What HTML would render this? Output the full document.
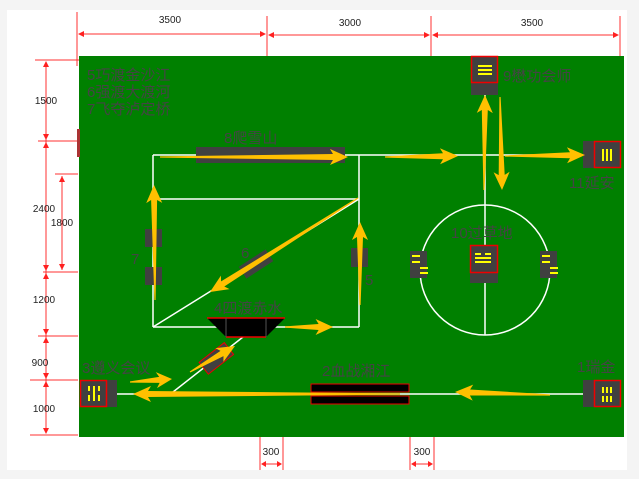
<!DOCTYPE html>
<html><head><meta charset="utf-8"><style>
html,body{margin:0;padding:0;background:#f4f4f4;}
svg{display:block}
text{font-family:"Liberation Sans","Noto Sans CJK SC",sans-serif;}
</style></head><body>
<svg id="s" width="639" height="479" viewBox="0 0 639 479" xmlns="http://www.w3.org/2000/svg">
<rect x="7" y="10" width="620" height="460" fill="#fff"/>
<g stroke="#ff3030" stroke-width="1" fill="none">
<line x1="77" y1="12" x2="77" y2="66"/><line x1="267" y1="16" x2="267" y2="58"/><line x1="431" y1="16" x2="431" y2="58"/><line x1="620" y1="16" x2="620" y2="58"/>
<line x1="79" y1="34" x2="265" y2="34"/><line x1="269" y1="35" x2="429" y2="35"/><line x1="433" y1="35" x2="618" y2="35"/>
<line x1="35" y1="60" x2="95" y2="60"/><line x1="38" y1="141" x2="78" y2="141"/><line x1="55" y1="174" x2="78" y2="174"/><line x1="43" y1="272" x2="78" y2="272"/><line x1="38" y1="336" x2="78" y2="336"/><line x1="30" y1="380" x2="78" y2="380"/><line x1="30" y1="435" x2="78" y2="435"/>
<line x1="46" y1="62" x2="46" y2="433"/><line x1="62" y1="176" x2="62" y2="270"/>
<line x1="260" y1="437" x2="260" y2="470"/><line x1="283" y1="437" x2="283" y2="470"/><line x1="410" y1="437" x2="410" y2="470"/><line x1="434" y1="437" x2="434" y2="470"/>
<line x1="262" y1="464" x2="281" y2="464"/><line x1="412" y1="464" x2="432" y2="464"/>
</g>
<g fill="#ff2020">
<polygon points="78,34 84,31 84,37"/><polygon points="266,34 260,31 260,37"/><polygon points="268,35 274,32 274,38"/><polygon points="430,35 424,32 424,38"/><polygon points="432,35 438,32 438,38"/><polygon points="619,35 613,32 613,38"/>
<polygon points="46,61 43,67 49,67"/><polygon points="46,140 43,134 49,134"/><polygon points="46,142 43,148 49,148"/><polygon points="46,271 43,265 49,265"/><polygon points="46,273 43,279 49,279"/><polygon points="46,335 43,329 49,329"/><polygon points="46,337 43,343 49,343"/><polygon points="46,379 43,373 49,373"/><polygon points="46,381 43,387 49,387"/><polygon points="46,434 43,428 49,428"/>
<polygon points="62,176 59,182 65,182"/><polygon points="62,270 59,264 65,264"/>
<polygon points="261,464 266,461 266,467"/><polygon points="282,464 277,461 277,467"/><polygon points="411,464 416,461 416,467"/><polygon points="433,464 428,461 428,467"/>
</g>
<g font-size="10" fill="#222" text-anchor="middle" style="font-family:'Liberation Serif',serif">
<text x="170" y="23">3500</text><text x="350" y="26">3000</text><text x="532" y="26">3500</text>
<text x="46" y="104">1500</text><text x="44" y="212">2400</text><text x="62" y="226">1800</text><text x="44" y="303">1200</text><text x="40" y="366">900</text><text x="44" y="412">1000</text>
<text x="271" y="455">300</text><text x="422" y="455">300</text>
</g>
<rect x="79" y="56" width="545" height="381" fill="#008000"/>
<rect x="77" y="129" width="3" height="28" fill="#a33"/>
<g stroke="#fff" stroke-width="1.5" fill="none">
<line x1="153" y1="155" x2="600" y2="155"/>
<line x1="153" y1="155" x2="153" y2="327"/><line x1="359" y1="155" x2="359" y2="327"/>
<line x1="153" y1="327" x2="359" y2="327"/><line x1="158" y1="199" x2="359" y2="199"/>
<line x1="153" y1="327" x2="359" y2="199"/>
<circle cx="485" cy="270" r="65"/>
<line x1="485" y1="56" x2="485" y2="335"/>
<line x1="100" y1="394" x2="600" y2="394"/>
<line x1="243" y1="337" x2="173" y2="392"/>
</g>
<g fill="#404040">
<rect x="196" y="147" width="149" height="16"/>
<rect x="145" y="229" width="17" height="18"/><rect x="145" y="267" width="17" height="18"/>
<rect x="351" y="248" width="17" height="19"/>
<rect x="240" y="257" width="32" height="14" transform="rotate(-33 256 264)"/>
<rect x="471" y="56" width="27" height="39"/>
<rect x="583" y="141" width="38" height="27"/>
<rect x="583" y="380" width="38" height="27"/>
<rect x="80" y="380" width="37" height="27"/>
<rect x="470" y="245" width="28" height="38"/>
<rect x="410" y="251" width="17" height="27"/><rect x="540" y="251" width="17" height="27"/>
</g>
<rect x="200" y="351" width="32" height="15" fill="#404040" stroke="#e00" stroke-width="1" transform="rotate(-38 216 358)"/>
<g fill="none" stroke="#e00" stroke-width="1.5">
<rect x="471.5" y="56.5" width="26" height="26"/><rect x="594.5" y="141.5" width="26" height="26"/><rect x="594.5" y="380.5" width="26" height="26"/><rect x="80.5" y="380.5" width="26" height="26"/><rect x="470.5" y="245.5" width="27" height="27"/>
</g>
<g stroke="#ff0" stroke-width="2">
<line x1="478" y1="66" x2="492" y2="66"/><line x1="478" y1="70" x2="492" y2="70"/><line x1="478" y1="74" x2="492" y2="74"/>
<line x1="603" y1="149" x2="603" y2="161"/><line x1="607" y1="149" x2="607" y2="161"/><line x1="611" y1="149" x2="611" y2="161"/>
<line x1="603" y1="387" x2="603" y2="393"/><line x1="607" y1="387" x2="607" y2="393"/><line x1="611" y1="387" x2="611" y2="393"/>
<line x1="603" y1="396" x2="603" y2="402"/><line x1="607" y1="396" x2="607" y2="402"/><line x1="611" y1="396" x2="611" y2="402"/>
<line x1="89" y1="386" x2="89" y2="391"/><line x1="94" y1="386" x2="94" y2="401"/><line x1="99" y1="386" x2="99" y2="391"/><line x1="89" y1="395" x2="89" y2="401"/><line x1="99" y1="395" x2="99" y2="401"/>
<line x1="475" y1="254" x2="481" y2="254"/><line x1="485" y1="254" x2="491" y2="254"/><line x1="475" y1="258" x2="491" y2="258"/><line x1="475" y1="262" x2="491" y2="262"/>
<line x1="412" y1="256" x2="420" y2="256"/><line x1="412" y1="262" x2="420" y2="262"/><line x1="420" y1="268" x2="428" y2="268"/><line x1="420" y1="273" x2="428" y2="273"/>
<line x1="542" y1="256" x2="550" y2="256"/><line x1="542" y1="262" x2="550" y2="262"/><line x1="550" y1="268" x2="558" y2="268"/><line x1="550" y1="273" x2="558" y2="273"/>
</g>
<polygon points="207,318 285,318 266,337 226,337" fill="#000"/>
<line x1="207" y1="318" x2="285" y2="318" stroke="#e00" stroke-width="1.5"/><line x1="226" y1="337" x2="266" y2="337" stroke="#e00" stroke-width="1.5"/>
<line x1="226" y1="318" x2="226" y2="337" stroke="#555"/><line x1="266" y1="318" x2="266" y2="337" stroke="#555"/>
<rect x="311" y="384" width="98" height="8" fill="#000" stroke="#e00" stroke-width="1"/>
<rect x="311" y="396" width="98" height="8" fill="#000" stroke="#e00" stroke-width="1"/>
<g id="arrows" fill="#ffc000"></g>
<g fill="#444" font-size="15" style="font-family:'Liberation Sans','Noto Sans CJK SC',sans-serif">
<text x="87" y="80">5巧渡金沙江</text><text x="87" y="97">6强渡大渡河</text><text x="87" y="114">7飞夺泸定桥</text>
<text x="224" y="143">8爬雪山</text><text x="503" y="81">9懋功会师</text><text x="569" y="188">11延安</text>
<text x="451" y="238">10过草地</text><text x="214" y="313">4四渡赤水</text><text x="82" y="373">3遵义会议</text>
<text x="322" y="376">2血战湘江</text><text x="577" y="372">1瑞金</text>
<text x="131" y="264">7</text><text x="241" y="258">6</text><text x="365" y="285">5</text>
</g>
</svg>
<script>
var A=[[160,157,348,157],[385,157,458,156],[505,156,585,155],[484,190,485,95],[500,97,502,190],[155,300,154,185],[360,305,360,222],[358,198,210,292],[285,327,333,327],[190,372,235,346],[130,382,172,379],[400,394,133,394],[550,395,455,392]];
var g=document.getElementById('arrows'),s='';
A.forEach(function(a){var dx=a[2]-a[0],dy=a[3]-a[1],L=Math.hypot(dx,dy),ux=dx/L,uy=dy/L,nx=-uy,ny=ux,h=Math.min(15,L*.3);
function p(t,w){return (a[0]+ux*t+nx*w).toFixed(1)+','+(a[1]+uy*t+ny*w).toFixed(1);}
var pts=[p(0,0.6),p(L-h,3),p(L-h-3,8),p(L,0),p(L-h-3,-8),p(L-h,-3),p(0,-0.6)];
s+='<polygon points="'+pts.join(' ')+'"/>';});
g.innerHTML=s;
</script>
</body></html>
